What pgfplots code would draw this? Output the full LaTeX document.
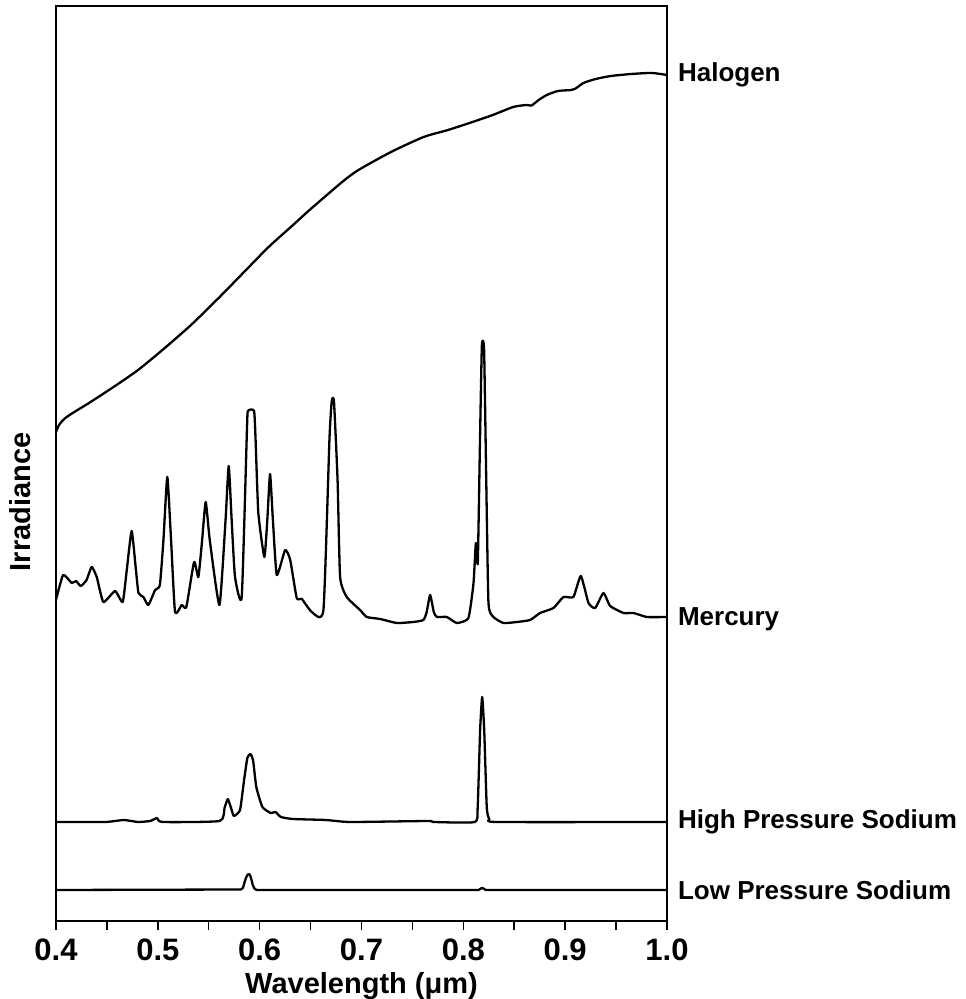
\documentclass[border=0pt]{standalone}
\usepackage{fontspec}
\setmainfont{Liberation Sans}
\usepackage{pgfplots}
\pgfplotsset{compat=1.18}

% 1 px of the reference = 0.5pt
\begin{document}
\begin{tikzpicture}
\begin{axis}[
  scale only axis, width=305.5pt, height=457.5pt,
  xmin=0.4, xmax=1.0, ymin=0, ymax=915,
  axis line style={line width=0.75pt},
  xtick={0.4,0.5,...,1.0},
  xticklabels={0.4,0.5,0.6,0.7,0.8,0.9,1.0},
  minor x tick num=1,
  xtick pos=bottom, ytick=\empty,
  tick align=outside,
  major tick length=4.5pt, minor tick length=4.5pt,
  every tick/.style={line width=0.75pt, black},
  xticklabel style={font=\fontsize{15.5}{16}\selectfont\bfseries, yshift=-1pt},
  /pgf/number format/assume math mode=true,
  xlabel={Wavelength (μm)},
  xlabel style={font=\fontsize{14.5}{15}\selectfont\bfseries, yshift=1pt},
  ylabel={Irradiance},
  ylabel style={font=\fontsize{14.5}{15}\selectfont\bfseries,
    at={(axis description cs:-0.059,0.458)}, anchor=center},
  clip=false,
]
% Halogen
\addplot[black, line width=1.15pt, smooth, tension=0.4] coordinates {
(0.400,489) (0.403,496) (0.408,502) (0.4164,508) (0.4324,518) (0.4565,534)
(0.4806,551) (0.5045,571) (0.5326,596) (0.5607,624) (0.5847,649) (0.6088,674)
(0.6328,696) (0.649,711) (0.681,739) (0.697,751) (0.729,769) (0.761,784)
(0.785,791) (0.809,799) (0.829,806) (0.849,814) (0.862,816) (0.867,815.5)
(0.874,821) (0.882,826) (0.893,830) (0.906,831) (0.911,833) (0.918,838)
(0.930,842) (0.945,845) (0.965,847) (0.985,848) (1.0,846)
};
% Mercury
\addplot[black, line width=1.15pt, line join=round, smooth, tension=0.3] coordinates {
(0.400,321) (0.407,346) (0.4154,338) (0.4197,340) (0.4243,335) (0.430,341)
(0.435,354) (0.440,344) (0.4465,319) (0.458,330) (0.4655,319) (0.4695,351)
(0.4743,390) (0.4785,351) (0.481,328) (0.4858,324) (0.4907,316) (0.4973,331)
(0.502,336) (0.5055,381) (0.5093,444) (0.513,381) (0.5169,309) (0.5235,316)
(0.528,314) (0.5356,359) (0.5398,344) (0.5435,381) (0.547,419) (0.551,381)
(0.5605,316) (0.5665,401) (0.5696,455) (0.5725,401) (0.5758,344) (0.5824,324)
(0.5875,491) (0.5885,510) (0.5945,510) (0.596,481) (0.5987,408) (0.6046,364)
(0.6075,401) (0.6102,447) (0.613,401) (0.6168,346) (0.625,371) (0.630,361)
(0.6364,323) (0.6414,322) (0.6512,309) (0.6626,311) (0.6685,481) (0.6708,520)
(0.673,519) (0.6765,441) (0.679,344) (0.6855,324) (0.6986,311) (0.7052,304)
(0.7183,302) (0.7347,298) (0.751,299) (0.7608,301) (0.764,309) (0.7674,326)
(0.771,309) (0.774,304) (0.7838,304) (0.7936,298) (0.805,303) (0.810,338)
(0.8123,378) (0.8142,358) (0.8162,471) (0.8182,575) (0.8204,571) (0.8225,441)
(0.8247,318) (0.8296,304) (0.8394,298) (0.8526,299) (0.8656,301) (0.8754,308)
(0.8885,313) (0.8983,324) (0.9081,324) (0.9154,345) (0.9229,318) (0.9295,313)
(0.9376,328) (0.9442,315) (0.9573,308) (0.9671,308) (0.9803,304) (1.0,304)
};
% High Pressure Sodium
\addplot[black, line width=1.15pt, line join=round, smooth, tension=0.3] coordinates {
(0.400,99) (0.4484,99) (0.4665,101) (0.4806,99) (0.4925,100) (0.4993,103)
(0.5045,99) (0.5607,100) (0.5655,113) (0.5687,122) (0.5719,113) (0.5747,105)
(0.5807,111) (0.5847,141) (0.5879,163) (0.5908,167) (0.5935,161) (0.5967,134)
(0.6027,114) (0.6108,108) (0.6156,109) (0.6208,104) (0.6328,102) (0.6649,101)
(0.689,99) (0.7652,100) (0.771,99) (0.8113,99) (0.8141,114) (0.8165,191)
(0.8185,224) (0.8205,191) (0.823,114) (0.8255,102) (0.8334,99) (1.0,99)
};
% Low Pressure Sodium
\addplot[black, line width=1.15pt, line join=round] coordinates {
(0.400,31) (0.5815,31.5) (0.5835,33) (0.5850,38) (0.5865,43) (0.5880,46)
(0.5892,47) (0.5905,46) (0.5918,42) (0.5932,36) (0.5948,32.5) (0.597,31)
(0.8150,31) (0.8172,32.5) (0.8185,33) (0.8198,32.5) (0.8220,31) (1.0,31)
};
\begin{scope}[every node/.style={anchor=west, xshift=2pt,
    font=\fontsize{13}{14}\selectfont\bfseries}]
\node at (axis cs:1.0,846) {Halogen};
\node at (axis cs:1.0,302) {Mercury};
\node at (axis cs:1.0,99) {High Pressure Sodium};
\node at (axis cs:1.0,31) {Low Pressure Sodium};
\end{scope}
\coordinate (bl) at (rel axis cs:0,0);
\coordinate (tr) at (rel axis cs:1,1);
\end{axis}
\pgfresetboundingbox
\path ([xshift=-28pt,yshift=-39pt]bl) rectangle ([xshift=149.5pt,yshift=3pt]tr);
\end{tikzpicture}
\end{document}
